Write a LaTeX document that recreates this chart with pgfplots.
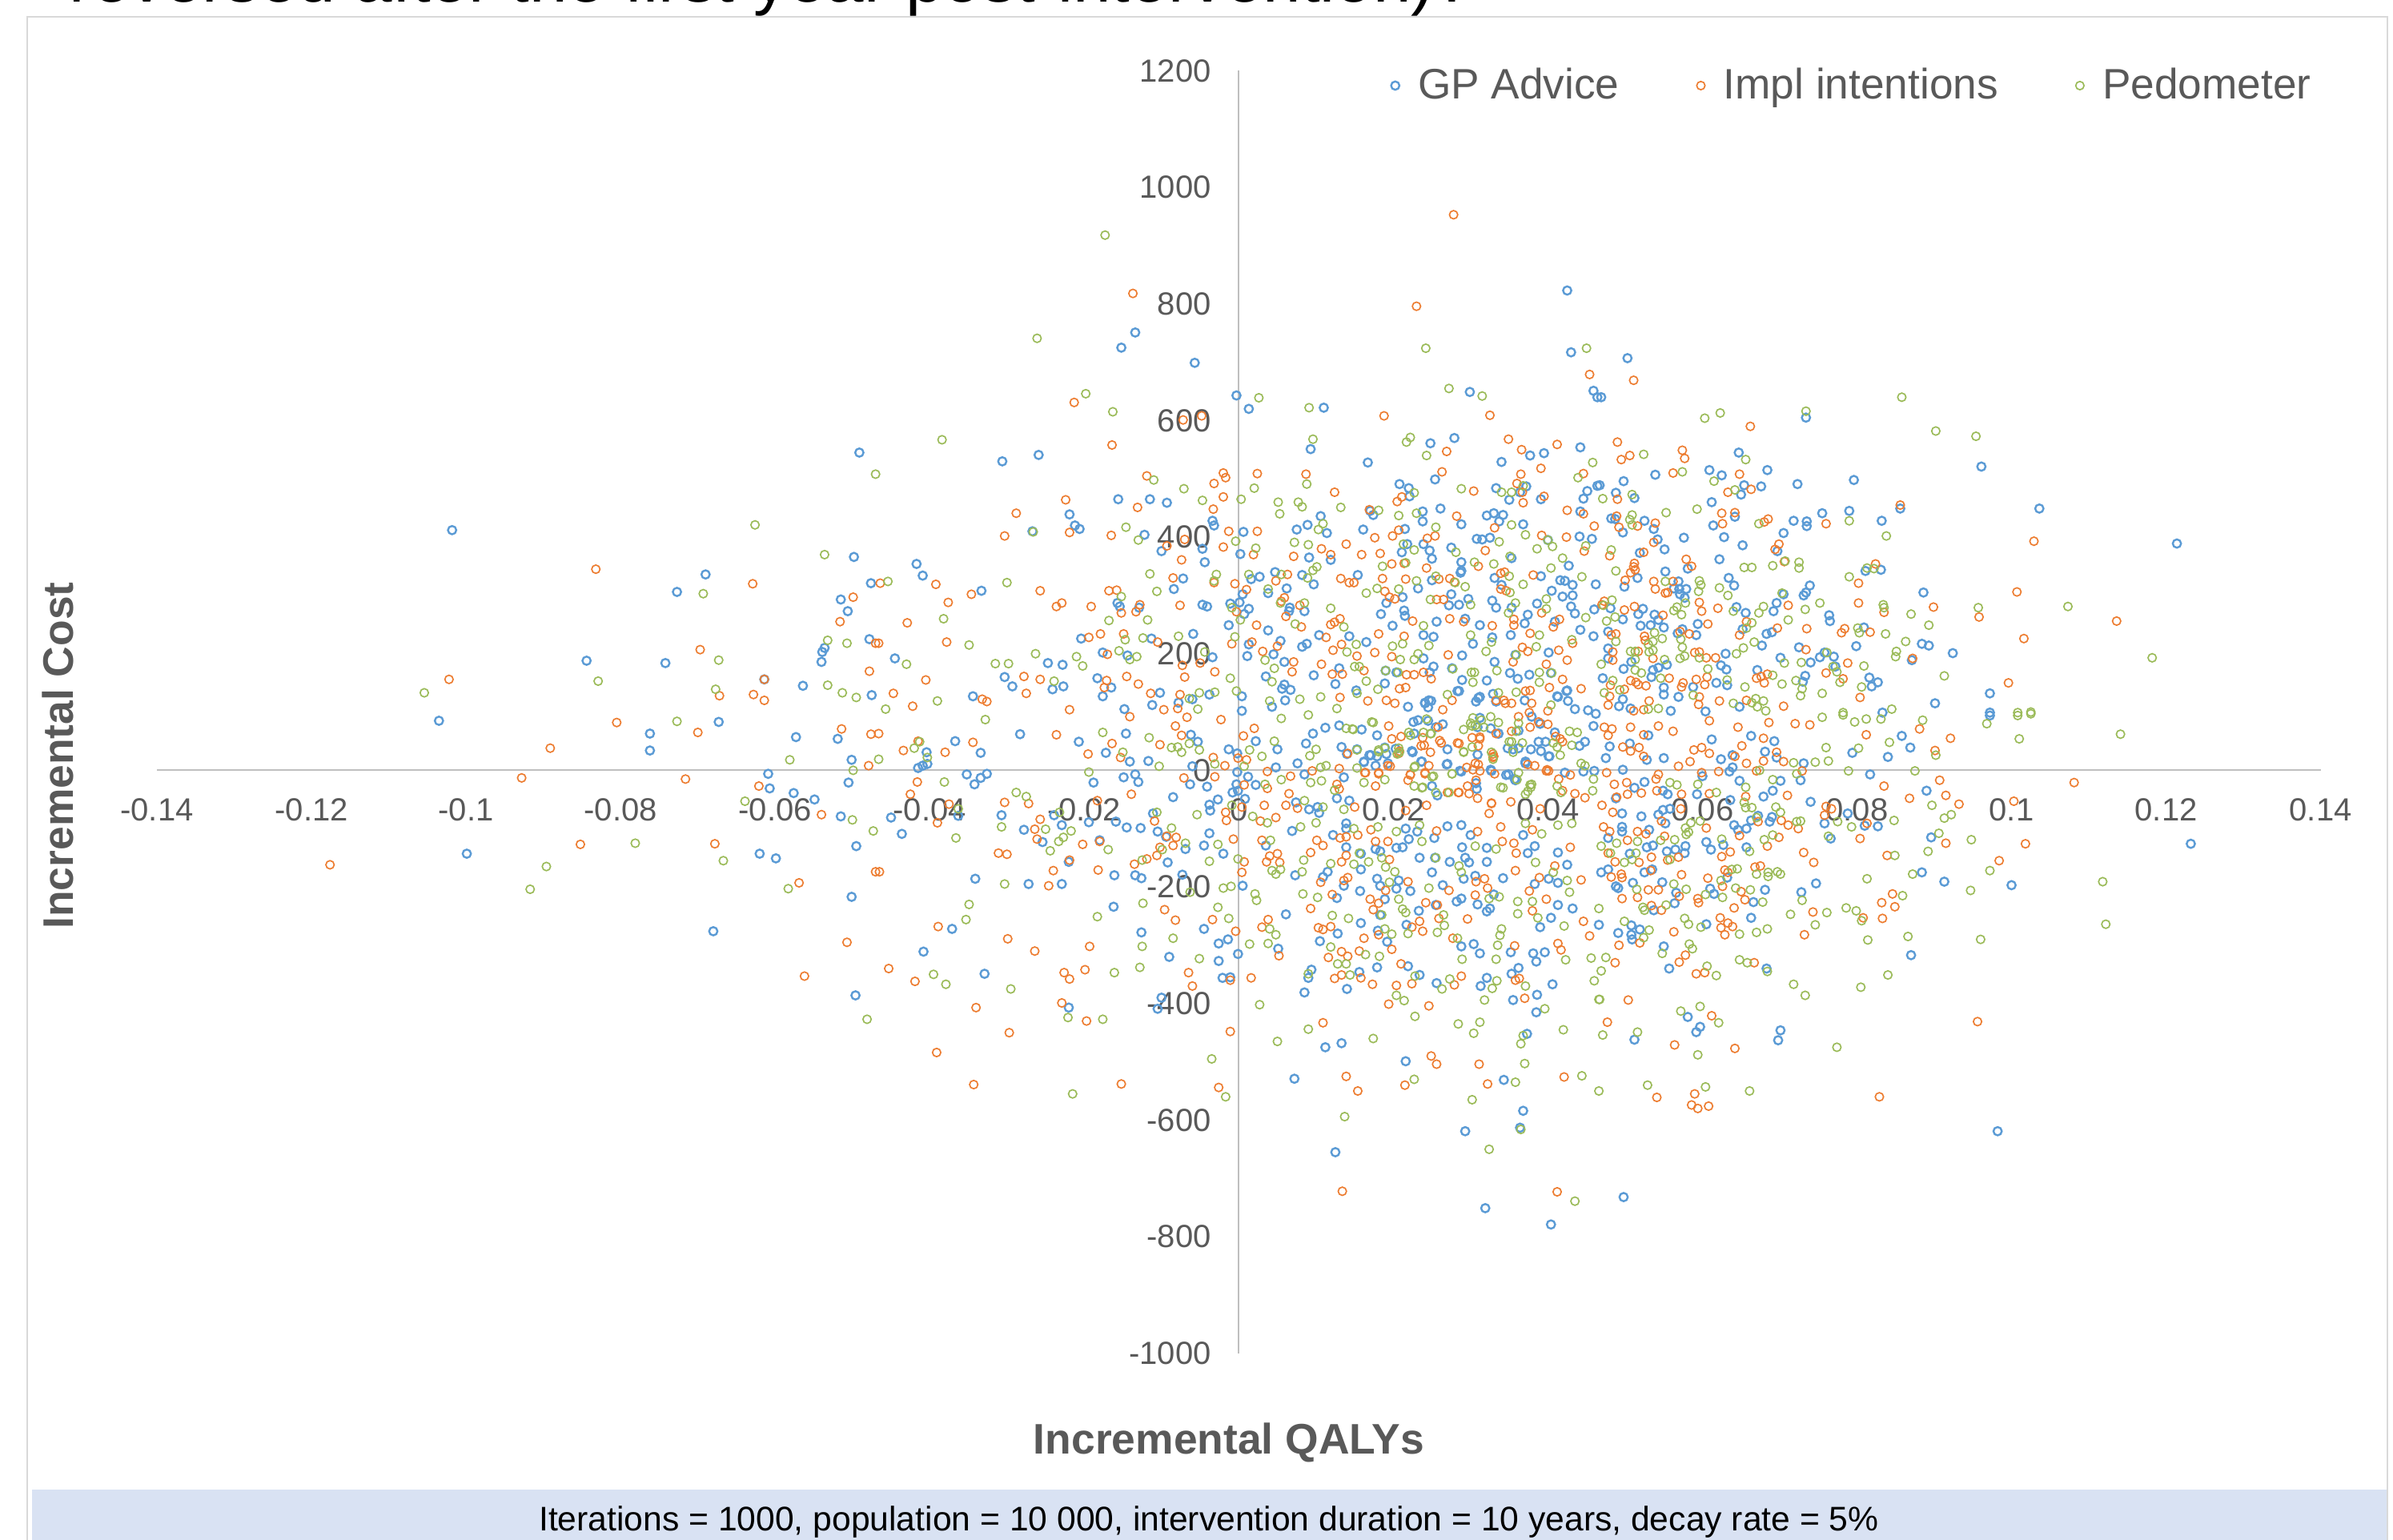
\documentclass[border=0pt]{standalone}
\usepackage{pgfplots}
\pgfplotsset{compat=1.18}
\usepackage{fontspec}
\setmainfont{Liberation Sans}
\definecolor{cgp}{HTML}{5B9BD5}
\definecolor{cimpl}{HTML}{ED7D31}
\definecolor{cped}{HTML}{9BBB59}
\definecolor{axl}{HTML}{BFBFBF}
\definecolor{txt}{HTML}{595959}
\definecolor{band}{HTML}{D9E2F3}
\definecolor{frm}{HTML}{D9D9D9}
\begin{document}
\begin{tikzpicture}
\clip (0,0) rectangle (747.25pt,481pt);
\fill[white] (0,0) rectangle (747.25pt,481pt);
\draw[frm,line width=.5pt] (8.5pt,-2pt) -- (8.5pt,475.75pt) -- (745.5pt,475.75pt) -- (745.5pt,-2pt);
\fill[band] (10pt,0) rectangle (745.25pt,15.75pt);
\node[anchor=base west,inner sep=0pt,font=\fontsize{21.36}{24}\selectfont] at (21.5pt,480.3pt) {reversed after the first year post-intervention)?};
\node[inner sep=0pt,font=\fontsize{10.66}{12}\selectfont] at (377.5pt,5.55pt) {Iterations = 1000, population = 10 000, intervention duration = 10 years, decay rate = 5\%};
\node[inner sep=0pt,text=txt,font=\bfseries\fontsize{13.35}{16}\selectfont] at (383.7pt,30.3pt) {Incremental QALYs};
\node[inner sep=0pt,text=txt,rotate=90,font=\bfseries\fontsize{13.35}{16}\selectfont] at (18pt,245pt) {Incremental Cost};
\begin{axis}[
  at={(49pt,58.3pt)},anchor=south west,scale only axis,
  width=675.65pt,height=400.6pt,
  xmin=-0.14,xmax=0.14,ymin=-1000,ymax=1200,
  axis lines=center,axis line style={-,axl,line width=.5pt},
  major tick length=0pt,
  hide obscured x ticks=false,hide obscured y ticks=false,
  xtick={-0.14,-0.12,-0.1,-0.08,-0.06,-0.04,-0.02,0,0.02,0.04,0.06,0.08,0.1,0.12,0.14},
  xticklabels={-0.14,-0.12,-0.1,-0.08,-0.06,-0.04,-0.02,0,0.02,0.04,0.06,0.08,0.1,0.12,0.14},
  ytick={-1000,-800,-600,-400,-200,0,200,400,600,800,1000,1200},
  yticklabels={-1000,-800,-600,-400,-200,0,200,400,600,800,1000,1200},
  tick label style={text=txt,font=\fontsize{10}{12}\selectfont,inner sep=0pt},
  x tick label style={anchor=base,yshift=-15.8pt},
  y tick label style={anchor=east,xshift=-8.5pt},
  legend columns=3,
  legend style={at={(0.9988,0.9884)},anchor=east,draw=none,fill=none,inner sep=0pt,
    font=\fontsize{13.3}{16}\selectfont,text=txt,
    /tikz/column 1/.style={column sep=3.8pt},/tikz/column 3/.style={column sep=3.8pt},/tikz/column 5/.style={column sep=3.8pt},
    /tikz/column 2/.style={column sep=22.2pt},/tikz/column 4/.style={column sep=22.2pt}},
  legend image code/.code={\draw[#1] plot coordinates {(0pt,0pt)};},
  every axis plot/.append style={only marks,mark=o},
]
\addplot[mark options={draw=cgp,line width=.6pt},mark size=1.3pt] coordinates {
(-.0491,545)(-.1018,412)(-.0498,366)(-.069,336)(-.0727,306)(-.0476,321)(-.0515,293)(-.0506,273)(-.0478,225)(-.0536,210)(-.0539,203)(-.054,186)(-.0844,188)(-.0742,184)(-.0614,156)(-.0564,145)(-.0475,129)
(-.1035,85)(-.0762,63)(-.0762,34)(-.0673,83)(-.0573,57)(-.0519,54)(-.0501,18)(-.0609,-6)(-.0607,-31)(-.0576,-39)(-.0549,-50)(-.0505,-21)(-.0515,-79)(-.0495,-130)(-.0999,-143)(-.062,-143)(-.0599,-151)(-.0501,-217)(-.068,-276)(-.0496,-386)
(.0425,823)(.043,717)(-.0134,751)(-.0152,725)(-.0057,699)(-.0003,643)(.0013,620)(.011,622)(.0299,649)(.0459,651)(.0464,640)(.0279,570)(.0248,561)(.0093,551)(.0442,554)(.0377,540)(.0395,544)(-.0259,541)(-.0306,530)(.0167,528)(.034,529)(.0254,499)(.0208,491)(.022,484)(.0333,484)(.0372,487)(.0221,470)(.035,464)(.0364,477)(.0391,465)(.0451,479)(.0464,488)(.0446,466)(-.0156,465)(-.0115,465)(-.0093,459)(.017,445)(.0174,438)(.0261,449)(.0238,444)(.0238,427)(.0442,444)(-.0219,439)(.0106,436)(-.0034,428)(-.0032,420)(.0321,437)(.033,441)(.0342,438)(.0337,427)(.0288,422)(.0368,422)(.0089,421)(.0215,414)(.0075,413)(.0114,407)(.0161,413)(-.0212,420)(-.0206,414)(-.0267,410)(.0006,409)(-.0122,404)(.0308,397)(.0315,396)(.0325,399)(.0441,401)(.0457,397)(.04,395)(.0218,388)(.0239,388)(.0247,377)(.0211,374)(.0275,382)(.025,363)(.0353,364)(-.01,376)(-.0047,380)(.0002,371)(.0091,365)(.0119,361)(-.0044,357)(.0288,357)(.0288,342)(.0427,351)(.0047,340)(.0082,335)(.0154,335)(.0287,339)(-.0417,354)(-.0409,334)(-.0072,329)(.0027,332)(.0016,328)(.0097,319)(.0391,333)(.0331,330)(.034,318)(.0416,326)(.0422,325)(.0432,318)(.0462,319)(.025,326)(.0232,312)(-.0084,311)(.0062,312)(-.0333,308)(.0038,304)(.0005,302)(.0405,308)(.0419,298)(.0432,300)(.0275,302)(.0212,297)(.0001,288)(-.0011,286)(-.0157,287)(-.0154,281)(-.0047,284)(-.0041,281)(-.0129,279)(.0013,277)(.0066,279)(.0065,273)(.0085,273)(.0191,287)(.0214,274)(.0215,265)(.0184,268)(.0272,283)(.0285,284)(.0297,294)(.0328,291)(.0333,279)(.0353,279)(.0386,286)(.043,281)(.046,276)(.0435,269)(.0007,268)(.0374,267)(.0409,255)(.0293,260)(.0256,255)(-.0013,249)(.0199,248)(.0312,249)(.037,252)(.0038,240)(-.0059,234)(-.0204,226)(-.0113,226)(.0252,229)(.0239,232)(.0143,230)(.0104,232)(.0352,232)(.0442,241)(.0459,230)(.0165,220)(.0054,222)(.0088,217)(.0082,212)(.0013,216)(.0328,228)(.0303,217)(-.0176,202)(-.0144,197)(.0011,196)(.0045,199)(-.0034,194)(-.0445,192)(-.0247,184)(-.0228,181)(.0059,186)(.0289,197)(.0239,192)(.0401,202)(.0358,198)(.0252,178)(.0331,186)(.0276,175)(.013,175)(.019,171)(.0204,168)(.0247,168)(.0351,167)(.0376,164)(.0404,167)(-.0303,160)(.0035,161)(.0097,163)(.0321,154)(.0361,157)(.0289,155)(-.0183,158)(-.0293,144)(-.0241,139)(-.0227,144)(.0059,147)(.0056,140)(.0067,138)(.0125,148)(.0189,149)(.0152,137)(.0285,136)(-.0165,142)(-.0176,127)(-.0344,127)(-.0102,133)(-.0038,130)(.0004,127)(-.0078,116)(-.006,122)(-.0112,112)(.006,120)(.0312,126)(.037,120)(.0425,137)(.0413,126)(.0241,116)(.0249,119)(.0333,118)(.0219,109)(-.0148,105)(.0004,102)(.0043,109)
(.0503,707)(.0469,640)(.0734,605)(.0647,545)(.0609,515)(.0684,515)(.0625,506)(.0539,507)(.0498,496)(.0796,498)(.0723,491)(.0961,521)(.0467,489)(.0654,489)(.0676,487)(.0488,476)(.065,473)(.0512,467)(.0612,460)(.1036,449)(.079,445)(.0755,441)(.0856,449)(.0642,435)(.0482,432)(.0487,431)(.0525,428)(.0832,428)(.0718,428)(.0735,427)(.0735,419)(.0614,420)(.0537,414)(.0497,408)(.0705,407)(.0576,399)(.0628,400)(.0542,396)(.0652,386)(.0551,379)(.1214,389)(.0697,376)(.0519,373)(.0622,362)(.0581,346)(.0811,342)(.0831,344)(.0552,341)(.0634,330)(.0516,330)(.0569,324)(.0641,317)(.0739,317)(.0499,315)(.0579,311)(.0563,312)(.057,311)(.0571,302)(.0577,296)(.0734,305)(.0731,300)(.0705,302)(.0886,305)(.0696,287)(.0644,280)(.0523,277)(.0481,278)(.0692,273)(.0656,270)(.0517,268)(.0538,267)(.0497,259)(.0543,258)(.0764,266)(.0765,256)(.052,248)(.0533,249)(.055,245)(.0594,251)(.0574,242)(.0568,235)(.0652,242)(.069,237)(.0683,234)(.0809,245)(.0478,238)(.0592,232)(.0799,213)(.0677,214)(.0725,211)(.0884,217)(.0893,214)(.0924,201)(.063,200)(.0478,209)(.0758,202)(.077,195)(.0701,193)(.074,185)(.0752,194)(.0772,178)(.0871,189)(.0478,192)(.0508,186)(.0554,181)(.0543,176)(.0624,180)(.0631,173)(.0498,174)(.0536,172)(.0671,172)(.0733,162)(.073,152)(.0534,160)(.0816,159)(.0827,151)(.0819,144)(.0618,150)(.0632,146)(.0471,158)(.055,142)(.055,130)(.0588,143)(.0972,132)(.0901,115)(.0497,122)(.0569,126)(.0492,110)(.0507,106)(.0559,102)(.0648,109)(.0604,101)(.0833,99)(.0972,99)
(-.0283,62)(-.0367,50)(-.0207,49)(-.0334,30)(-.0146,63)(-.0404,31)(-.0403,11)(-.0409,8)(-.0415,4)(-.0172,30)(-.0141,15)(-.0117,16)(-.0013,36)(-.0002,29)(-.0053,49)(-.0062,61)(-.0352,-7)(-.0334,-13)(-.0326,-6)(-.0342,-24)(-.0188,-21)(-.0149,-12)(-.0134,-7)(-.013,-20)(-.0085,-46)(-.0063,-24)(-.0041,-28)(-.006,7)(-.0002,-3)(-.0003,-24)(.0012,-11)(-.0008,-38)(-.0001,-35)(-.0027,-50)(-.0038,-59)(-.0037,-69)(.0008,-49)(.0022,-25)(.0048,5)(.005,36)(.0022,50)(.0087,46)(.0096,63)(.0112,73)(.0076,12)(.0085,-7)(.0074,-55)(.0091,-67)(.0102,-63)(.0104,-73)(.0143,-52)(.0127,-48)(.0136,-12)(.0133,40)(.014,28)(.0153,36)(.0162,14)(.0171,26)(.0189,39)(.0159,70)(.013,77)(.0225,31)(.0237,15)(.027,11)(.027,36)(.0288,-2)(.0309,27)(.0327,-1)(.0349,-7)(.0358,-17)(.0371,12)(.0401,24)(.0446,-2)(.046,-1)(.0422,-4)(.039,80)(.0362,68)(.0336,63)(.0309,74)(.0245,85)(.0179,60)(-.045,-81)(-.0436,-109)(-.0363,-78)(-.0307,-77)(-.0278,-102)(-.0254,-123)(-.0239,-77)(-.0229,-94)(-.0194,-89)(-.0159,-88)(-.018,-120)(-.0145,-98)(-.0127,-99)(-.0111,-74)(-.0105,-105)(-.0094,-114)(-.0069,-135)(-.0045,-129)(-.002,-143)(-.0038,-108)(-.0092,-158)(-.022,-157)(-.0341,-186)(-.0272,-195)(-.0229,-195)(-.0161,-180)(-.0134,-180)(-.0126,-185)(-.0073,-179)(.0005,-198)(-.0162,-234)(-.0371,-272)(-.0126,-278)(-.0045,-272)(-.0408,-311)(-.0026,-297)(-.0014,-290)(-.0026,-327)(-.0001,-315)(-.009,-320)(-.0329,-349)(-.0021,-356)(-.0011,-355)(-.01,-390)(-.022,-407)(-.0105,-409)(.0061,-247)(.0051,-306)(.0035,-129)(.0069,-104)(.0073,-180)(.0105,-293)(.0094,-342)(.009,-356)(.0085,-381)(.0128,-280)(.0127,-219)(.0109,-183)(.0115,-174)(.0136,-198)(.0157,-207)(.0158,-170)(.0122,-111)(.0139,-132)(.0139,-100)(.0139,-91)(.0158,-143)(.0177,-135)(.0183,-139)(.0204,-133)(.0212,-132)(.0179,-186)(.0183,-198)(.0204,-203)(.0207,-189)(.0222,-207)(.0189,-221)(.0183,-248)(.0158,-262)(.018,-275)(.0192,-294)(.0179,-338)(.0156,-346)(.014,-375)(.0219,-336)(.0234,-351)(.0256,-365)(.0217,-265)(.0233,-241)(.0216,-100)(.022,-118)(.0231,-105)(.0253,-116)(.0234,-150)(.0254,-150)(.025,-175)(.0264,-197)(.0273,-157)(.027,-96)(.0288,-94)(.0289,-132)(.0293,-150)(.0298,-158)(.0291,-186)(.0306,-181)(.0321,-157)(.0342,-185)(.0321,-133)(.03,-111)(.0368,-111)(.0383,-130)(.0374,-142)(.0413,-141)(.0425,-162)(.0383,-195)(.0401,-186)(.0413,-193)(.0282,-225)(.0288,-220)(.0255,-231)(.0309,-230)(.033,-213)(.0321,-242)(.0325,-237)(.0413,-231)(.0432,-237)(.0404,-253)(.039,-269)(.0288,-302)(.0304,-298)(.0312,-314)(.0352,-312)(.0381,-314)(.0396,-312)(.0385,-328)(.0362,-339)(.0353,-349)(.0321,-356)(.0313,-370)(.0406,-367)(.0386,-385)(.0355,-394)(.0385,-415)(.0373,-452)(.0133,-468)(.0112,-475)(.0216,-499)(.0072,-529)(.0343,-531)(.0368,-584)(.0293,-619)(.0364,-613)(.0125,-655)(.0319,-751)(.0404,-779)
(.0972,94)(.0858,59)(.0869,39)(.0794,30)(.084,23)(.0693,50)(.0663,59)(.0681,32)(.0696,22)(.0731,12)(.0639,26)(.0624,19)(.0639,5)(.0635,-2)(.06,-10)(.0528,18)(.055,21)(.0497,1)(.0475,21)(.048,41)(.0506,46)(.053,60)(.0612,53)(.0817,-7)(.0648,-18)(.0727,-17)(.0701,-18)(.0691,-35)(.0679,-45)(.0593,-41)(.074,-54)(.089,-35)(.0636,-51)(.0672,-78)(.069,-80)(.0687,-88)(.0663,-86)(.0641,-94)(.0657,-100)(.0646,-102)(.0788,-74)(.0758,-91)(.081,-95)(.0827,-96)(.0766,-117)(.0605,-123)(.0627,-128)(.0611,-136)(.0657,-132)(.0896,-115)(.0578,-130)(.0577,-142)(.0565,-136)(.0554,-139)(.0528,-132)(.0536,-129)(.0506,-143)(.0478,-116)(.0531,-102)(.0496,-97)(.0496,-105)(.0521,-79)(.0496,-74)(.0552,-91)(.0543,-76)(.0549,-68)(.0558,-66)(.0555,-41)(.0549,-35)(.0512,-30)(.0525,-20)(.0488,-48)(.0884,-175)(.0913,-191)(.1,-197)(.0747,-194)(.0728,-209)(.0681,-205)(.0632,-184)(.0535,-170)(.0525,-175)(.0548,-192)(.051,-193)(.0488,-199)(.0491,-202)(.0478,-170)(.0469,-175)(.061,-203)(.0615,-212)(.0566,-210)(.0666,-226)(.0564,-228)(.0537,-240)(.0663,-253)(.0605,-264)(.0491,-279)(.0508,-266)(.0519,-273)(.0508,-282)(.0509,-290)(.055,-302)(.087,-317)(.0557,-340)(.0683,-340)(.0581,-423)(.0701,-446)(.0597,-440)(.0592,-449)(.0512,-462)(.0698,-463)(.0982,-619)(.0498,-732)(.1232,-126)(.0466,-265)
(.0283,136)(.031,124)(.0329,131)(.0412,127)(.0424,136)(.0426,119)(.0435,105)(.0452,103)(.0462,97)(.0379,92)(.039,80)(.0409,65)(.0397,49)(.0388,49)(.0355,36)(.0362,38)(.0378,36)(.0391,33)(.0402,24)(.0448,49)(.0441,42)(.0459,76)(.0371,15)(.0346,-8)(.0357,-15)(.0326,1)(.0307,-22)(.0308,-32)(.0286,-1)(.0269,10)(.0236,15)(.025,-27)(.0257,-43)(.0227,63)(.0226,83)(.0232,86)(.0245,108)(.0246,120)(.0241,115)(.0255,74)(.0264,79)(.0179,24)(.0169,26)(.0191,28)(.0193,12)(.0203,37)(.0224,33)(.0162,15)(.0177,8)(.0326,72)(.0336,63)(.0307,118)(.0312,90)(.0348,38)
};
\addlegendentry{GP Advice}
\addplot[mark options={draw=cimpl,line width=.42pt},mark size=1.3pt] coordinates {
(-.0832,345)(-.0629,320)(-.0499,297)(-.0516,255)(-.0697,207)(-.0478,170)(-.1022,156)(-.0614,156)(-.0672,128)(-.0628,130)(-.0614,120)(-.047,218)
(-.0805,82)(-.07,65)(-.0891,38)(-.0928,-13)(-.0716,-15)(-.0514,71)(-.0476,62)(-.0479,8)(-.0621,-27)(-.054,-76)(-.0852,-127)(-.0678,-126)(-.1176,-162)(-.0569,-193)(-.0507,-295)(-.0562,-353)(-.047,-174)
(.0278,953)(-.0137,818)(.023,796)(-.0213,631)(.0188,608)(.0325,609)(.0454,679)(-.0072,601)(-.0048,608)(-.0164,558)(.0349,568)(.0412,559)(.0366,550)(.0269,547)(.0263,512)(.0391,518)(-.002,510)(.0024,509)(.0087,508)(.0365,508)(-.0119,505)(-.0017,502)(-.0032,492)(.0446,509)(.036,492)(.0124,477)(.0304,479)(.0367,477)(.0395,470)(.0211,469)(-.002,469)(-.0224,464)(.0205,461)(.0368,459)(-.0131,451)(-.0033,448)(.0169,447)(.0425,446)(-.0288,441)(.0446,440)(.0282,436)(.0331,416)(.046,419)(-.0013,410)(.0024,410)(.0207,412)(-.0303,402)(-.0219,408)(-.0165,403)(.0176,399)(.0199,402)(.0244,398)(.0254,402)(.0392,403)(.0424,400)(-.0093,385)(-.007,396)(-.002,383)(.0139,388)(.0107,380)(.0447,376)(.0319,377)(.0019,370)(.0071,367)(.0119,370)(.0159,370)(.0183,372)(-.0074,361)(.0198,354)(.0214,355)(.0243,347)(.031,350)(.0339,338)(.0344,340)(.0381,335)(.0063,336)(-.0085,330)(.0132,329)(.0143,322)(.0149,322)(.0186,329)(.0216,328)(-.0464,321)(-.0392,319)(-.0032,322)(-.0005,320)(.0048,325)(.0259,328)(.0273,329)(.0279,323)(.0339,311)(.0346,308)(-.0168,308)(-.0158,309)(-.0257,308)(-.0346,302)(.001,310)(.0189,307)(.0195,297)(.0202,294)(-.0376,288)(.0059,296)(.0256,293)(.0265,293)(.0055,290)(-.0229,287)(-.0236,281)(-.0191,281)(-.0076,283)(-.0128,284)(.0079,283)(-.0133,272)(-.0152,270)(-.0003,272)(.0392,270)(.0415,259)(.0356,259)(-.0429,253)(.0273,260)(.0061,264)(.0131,260)(.0225,256)(.0291,255)(.0124,254)(.0119,250)(.0023,249)(.0081,246)(.0328,248)(.0356,249)(.0407,246)(.0377,235)(-.0179,234)(-.0149,234)(-.0194,228)(-.0378,220)(.0181,234)(.0214,230)(.0113,228)(-.0105,220)(.0017,220)(.005,213)(-.0466,218)(-.0009,217)(.0133,216)(.0367,211)(.0432,218)(.0374,204)(.0031,204)(.0122,206)(.0176,202)(.0271,198)(.0414,206)(-.017,199)(.0153,196)(.0198,195)(.0355,186)(.0425,189)(-.0073,180)(-.005,184)(.0071,186)(.0107,182)(.0398,182)(-.0031,169)(.0069,169)(.0162,171)(.0121,165)(.0239,168)(.0217,164)(.0227,164)(.0134,165)(-.0278,161)(-.0257,156)(-.0145,161)(-.007,160)(-.0405,155)(-.0171,154)(.0419,156)(.0249,157)(-.013,148)(-.0174,142)(-.0447,132)(-.0275,132)(-.0114,132)(-.0076,130)(.0208,140)(.0216,142)(.0371,136)(.0377,137)(.0402,142)(.0443,140)(-.0332,122)(-.0326,118)(.0131,125)(.0167,119)(.0191,120)(.0202,115)(.0276,120)(.0333,120)(.0353,115)(-.0422,110)(-.0219,104)(-.0097,104)(-.0079,106)(.0264,104)
(.0511,669)(.0662,590)(.049,563)(.0506,540)(.0495,533)(.0574,549)(.0577,535)(.0562,510)(.0648,508)(.0633,477)(.0663,482)(.049,465)(.0856,455)(.0625,441)(.0642,442)(.0489,436)(.0685,431)(.068,426)(.0539,424)(.0626,423)(.076,423)(.0492,417)(.0516,419)(.1029,393)(.0537,391)(.0699,388)(.0694,379)(.0524,374)(.048,368)(.0579,362)(.0706,358)(.0824,354)(.0512,355)(.0511,349)(.0586,350)(.0513,344)(.0507,339)(.05,326)(.0537,324)(.0562,324)(.0802,321)(.0539,311)(.0555,305)(.0552,304)(.1007,306)(.0473,290)(.047,284)(.0512,281)(.0596,288)(.0599,273)(.0499,275)(.062,278)(.0802,287)(.0899,280)(.0711,283)(.0835,271)(.0958,263)(.0549,266)(.0657,255)(.1136,256)(.0607,251)(.0735,243)(.0697,244)(.078,236)(.0784,243)(.0817,237)(.0648,232)(.0583,234)(.0571,238)(.0488,234)(.0482,232)(.0525,230)(.0526,223)(.1016,226)(.0734,207)(.0596,203)(.059,202)(.0484,203)(.0517,204)(.0605,193)(.0617,193)(.0536,192)(.0484,189)(.0872,192)(.0788,184)(.0684,165)(.0676,161)(.067,158)(.068,150)(.076,167)(.0557,158)(.0606,160)(.0592,156)(.0507,154)(.0514,151)(.0517,147)(.0527,145)(.0575,150)(.0573,143)(.0603,147)(.0996,150)(.0782,157)(.0481,146)(.0499,139)(.048,127)(.0804,125)(.0531,119)(.0596,126)(.0622,119)(.0657,120)(.0705,110)(.0478,112)(.0595,113)(.0524,104)(.0511,102)
(-.0466,63)(-.0415,50)(-.0434,34)(-.038,31)(-.0344,48)(-.0236,61)(-.0195,28)(-.0164,46)(-.0153,22)(-.0141,92)(-.0102,44)(-.0082,76)(-.0074,60)(-.0023,87)(-.0067,91)(-.0033,22)(-.0018,8)(-.0001,21)(.0006,59)(.002,72)(.001,18)(-.0031,-11)(-.0071,-13)(-.0416,-20)(-.0425,-41)(-.0375,-58)(-.0303,-55)(-.0272,-57)(-.0183,-52)(-.0139,-41)(-.039,-90)(-.0257,-84)(-.0264,-101)(-.0261,-118)(-.0202,-127)(-.018,-122)(-.0109,-87)(-.0081,-115)(-.0093,-113)(-.0085,-129)(-.0102,-132)(-.0106,-146)(-.0119,-152)(-.0135,-161)(-.0311,-142)(-.03,-144)(-.0219,-154)(-.024,-172)(-.0182,-171)(-.0246,-198)(-.0465,-174)(-.0017,-72)(-.0016,-86)(.0004,-63)(.0028,-87)(.0048,-81)(.0033,-60)(.0061,-60)(.0076,-65)(-.0007,-118)(.0007,-157)(.0004,-175)(.0036,-157)(.004,-147)(.005,-143)(.0053,-158)(.003,-120)(.0093,-141)(.0101,-120)(.0109,-129)(.0106,-192)(.0141,-184)(.0136,-189)(.0121,-213)(.0093,-237)(-.0096,-239)(-.0082,-257)(-.0034,-256)(-.0004,-276)(-.0389,-268)(-.0299,-289)(-.0264,-310)(-.0193,-302)(-.0453,-340)(-.0419,-362)(-.0226,-347)(-.0219,-358)(-.0199,-342)(-.0065,-347)(-.006,-370)(-.0011,-360)(.0016,-356)(.0038,-256)(.003,-269)(.0052,-318)(.0103,-270)(.0109,-273)(.0119,-268)(.0116,-321)(.0133,-311)(.0141,-319)(.0156,-310)(.0124,-357)(.0133,-351)(.0158,-356)(.0173,-367)(.0162,-288)(.0198,-307)(.0181,-282)(.017,-221)(.0174,-239)(.0181,-228)(.019,-206)(.0219,-191)(.0224,-269)(.0238,-276)(.0234,-259)(.0277,-288)(.021,-332)(.0204,-369)(.0224,-366)(.0279,-368)(.0288,-353)(.0357,-301)(.0358,-360)(.0363,-357)(.037,-391)(.0413,-297)(.0417,-308)(.0454,-284)(.0194,-401)(.0246,-404)(-.0229,-399)(-.034,-407)(-.0197,-430)(-.0297,-450)(-.0391,-484)(-.0011,-448)(.0109,-433)(-.0343,-539)(-.0152,-538)(-.0026,-544)(.0249,-490)(.0256,-504)(.0139,-525)(.0154,-550)(.0215,-540)(.0311,-504)(.0322,-538)(.0421,-526)(.0134,-722)(.0412,-723)(.0272,-206)(.0257,-231)(.0242,-227)(.0259,-254)(.0296,-255)(.0306,-214)(.0318,-186)(.0307,-191)(.0322,-202)(.0358,-172)(.0389,-184)(.0376,-207)(.0398,-221)(.038,-241)(.0443,-188)(.0446,-259)(.0429,-132)(.0409,-164)(.0359,-142)(.0341,-122)(.0356,-125)(.038,-102)(.0339,-97)(.0324,-74)(.0309,-105)(.0256,-104)(.0193,-122)(.0177,-122)(.0195,-153)(.0133,-157)(.0139,-146)(.0131,-116)(.0139,-114)(.0154,-111)(.0171,-102)(.015,-63)(.0127,-24)(.013,-32)(.0181,-6)(.0222,-7)(.0241,-6)(.0196,7)(.0164,-4)(.013,3)(.0095,-1)(.0067,-10)(.0037,-2)(.0007,-25)(.0037,-31)(.0065,-40)(.0141,29)(.0207,29)(.024,43)(.0285,46)(.0306,12)(.033,24)(.0312,57)(.0377,74)(.0419,49)(.0401,-1)(.027,-38)(.0285,-38)(.0327,-57)(.0309,-48)(.039,-66)(.0419,-35)(.0243,-60)(.0216,-69)
(.0921,55)(.0881,71)(.0812,61)(.0901,34)(.0739,78)(.072,80)(.0686,82)(.0646,74)(.0609,85)(.0543,76)(.0507,74)(.0483,71)(.0473,74)(.0478,60)(.0524,61)(.0497,40)(.0518,39)(.0507,33)(.0562,67)(.0589,35)(.0599,39)(.0609,29)(.0651,42)(.0679,55)(.0696,31)(.0524,24)(.0584,15)(.0569,7)(.0642,24)(.0657,12)(.0679,16)(.0705,15)(.0621,-2)(.0599,-4)(.067,-1)(.0729,-1)(.0543,-7)(.054,-15)(.0476,-4)(.0486,-24)(.0502,-21)(.0503,-41)(.1081,-21)(.0907,-17)(.0835,-27)(.0915,-43)(.0868,-48)(.0932,-58)(.1003,-53)(.071,-43)(.0656,-45)(.0609,-40)(.0573,-41)(.0541,-35)(.0521,-39)(.0489,-46)(.047,-60)(.0572,-66)(.076,-62)(.0767,-66)(.0758,-77)(.0547,-87)(.0484,-72)(.0605,-99)(.0672,-88)(.0702,-86)(.0711,-94)(.0724,-100)(.0813,-91)(.0472,-97)(.048,-105)(.0503,-120)(.0516,-105)(.0527,-109)(.0551,-113)(.0648,-112)(.0699,-115)(.0804,-117)(.0915,-125)(.1018,-126)(.0684,-130)(.0636,-140)(.0625,-148)(.0731,-141)(.0839,-146)(.0534,-149)(.0569,-149)(.0555,-154)(.0478,-142)(.0487,-157)(.0518,-158)(.0744,-158)(.0984,-155)(.0573,-179)(.0629,-171)(.0633,-175)(.0668,-166)(.0675,-164)(.0607,-185)(.0495,-178)(.0482,-183)(.0496,-184)(.0533,-172)(.053,-205)(.0543,-205)(.0626,-199)(.065,-208)(.0655,-222)(.0594,-220)(.0595,-227)(.057,-216)(.0496,-220)(.0516,-218)(.0846,-212)(.0832,-227)(.0849,-234)(.0743,-243)(.0534,-232)(.0547,-240)(.0641,-236)(.0808,-253)(.0833,-254)(.0623,-253)(.0633,-262)(.0639,-268)(.0624,-270)(.0629,-282)(.0563,-277)(.0732,-282)(.0519,-296)(.0492,-300)(.0578,-317)(.057,-329)(.0487,-330)(.0667,-330)(.0592,-349)(.0603,-347)(.0504,-394)(.0956,-431)(.0612,-421)(.0477,-432)(.0564,-471)(.0642,-477)(.059,-555)(.0541,-561)(.0586,-574)(.0594,-580)(.0608,-576)(.0829,-560)
(.031,10)(.0312,-1)(.0303,1)(.0307,-17)(.0296,-27)(.0298,-40)(.0284,-38)(.0295,5)(.0331,-6)(.0374,10)(.0383,8)(.0398,-1)(.0399,1)(.0414,-15)(.0429,-8)(.0435,-40)(.0448,-47)(.0327,-56)(.0352,-54)(.0312,54)(.0333,63)(.0329,28)(.0329,22)(.0283,47)(.0302,56)(.031,42)(.0353,67)(.0388,83)(.04,79)(.041,58)(.0416,54)(.04,102)(.0379,115)(.0345,115)(.0343,120)(.0362,92)(.0376,99)(.021,58)(.0198,54)(.0194,76)(.0208,33)(.0246,8)(.0241,-4)(.0222,-8)(.0219,-17)(.0177,-27)(.0181,-4)(.0163,-4)(.0193,8)(.0236,42)(.0248,31)(.026,51)(.0262,47)(.0238,56)(.0258,74)
};
\addlegendentry{Impl intentions}
\addplot[mark options={draw=cped,line width=.42pt},mark size=1.3pt] coordinates {
(-.047,508)(-.0626,421)(-.0536,370)(-.0693,303)(-.0532,223)(-.0507,218)(-.0673,189)(-.0829,153)(-.1054,133)(-.0677,139)(-.0532,146)(-.0513,133)(-.0495,125)
(-.0727,84)(-.0581,18)(-.0499,0)(-.0639,-53)(-.05,-85)(-.0473,-104)(-.0781,-125)(-.0667,-155)(-.0896,-165)(-.0583,-203)(-.0917,-204)(-.0481,-427)
(-.0173,918)(-.0261,741)(.0242,724)(.045,724)(-.0198,646)(-.0163,615)(.0026,639)(.0091,622)(.0272,655)(.0315,642)(-.0384,567)(.0096,568)(.0222,571)(.0217,563)(.0243,540)(.0458,528)(-.011,498)(.0439,502)(-.0071,483)(.002,484)(.0088,491)(.0288,483)(-.0047,463)(.0003,465)(.0051,460)(.0077,460)(.0082,452)(.0053,440)(.0132,451)(.0181,446)(.0227,476)(.034,477)(.0353,477)(.0368,488)(.0207,437)(.023,441)(.0109,423)(.0103,413)(.0255,417)(.0353,421)(.0371,404)(-.0146,417)(-.0266,409)(-.013,395)(-.0004,393)(.0022,381)(.0072,391)(.009,387)(.0337,392)(.0213,388)(.0227,378)(.04,395)(.0406,384)(.0386,380)(.0449,385)(.0281,374)(.0351,367)(.0419,364)(.0305,357)(.033,354)(.0186,350)(.0101,349)(.0096,343)(.0089,330)(-.0029,336)(-.0115,337)(-.03,322)(-.0454,324)(-.0032,325)(-.0106,307)(.0013,336)(.0055,336)(.0216,356)(.0255,333)(.023,325)(.028,322)(.0293,315)(.0368,319)(.035,333)(.0404,347)(.0444,332)(.0351,305)(.0398,294)(.0179,312)(.0165,304)(.0207,311)(.0038,311)(-.0152,298)(.0085,287)(.0054,287)(.0119,278)(.0248,293)(.03,284)(.0358,287)(.0398,277)(.0349,270)(.0449,262)(-.0009,279)(-.0382,260)(-.0168,257)(-.0118,258)(.0002,258)(.0073,251)(.0136,246)(.0239,248)(.03,232)(.0389,232)(.0431,224)(-.0005,229)(-.0078,230)(-.0124,227)(-.0147,224)(-.0349,215)(.0152,216)(.0199,213)(.0212,217)(.0246,214)(.0327,220)(.032,204)(.0385,212)(.0359,198)(-.0044,203)(-.0263,200)(-.0155,205)(-.0132,195)(-.0141,190)(-.021,195)(-.0202,179)(-.0315,183)(-.0298,183)(-.043,182)(.014,203)(.0034,189)(.0046,175)(.0209,190)(.0227,190)(.0232,200)(.015,178)(.0156,178)(.019,171)(.0206,168)(.0277,174)(.0301,168)(.0305,168)(.0334,171)(.0389,168)(.0405,167)(-.0011,158)(-.0239,153)(-.039,119)(-.0457,105)(-.0003,136)(-.0031,134)(-.0051,133)(-.0064,123)(.0043,152)(.0165,153)(.018,139)(.0153,132)(.0106,126)(.0079,122)(.004,119)(.027,130)(.0303,151)(.0336,133)(.0359,134)(.0389,151)(.0404,112)(.0127,106)(-.0053,105)
(.0858,640)(.0734,616)(.0623,613)(.0603,604)(.0902,582)(.0954,573)(.0524,542)(.0656,533)(.0574,512)(.0615,496)(.0642,481)(.0509,473)(.0471,466)(.0553,442)(.0593,448)(.0509,438)(.0506,430)(.0509,421)(.0673,423)(.079,428)(.0838,402)(.0482,378)(.0707,359)(.0725,357)(.0725,347)(.0691,351)(.0654,348)(.0664,348)(.0488,342)(.0813,347)(.0822,346)(.079,332)(.0552,324)(.0596,325)(.0598,318)(.0622,313)(.0595,307)(.0633,300)(.0703,304)(.0578,287)(.0483,292)(.0472,283)(.0567,280)(.0563,274)(.0573,267)(.0679,281)(.0673,270)(.0752,287)(.0733,276)(.064,273)(.0834,284)(.0835,279)(.0957,279)(.1073,281)(.087,268)(.0487,263)(.0476,256)(.0711,258)(.0664,253)(.0657,244)(.0893,249)(.0837,234)(.0803,236)(.0801,244)(.0538,236)(.0488,221)(.0548,226)(.0572,225)(.0536,221)(.053,216)(.0667,220)(.0653,210)(.0574,211)(.0863,221)(.0536,206)(.0507,204)(.0513,204)(.0531,203)(.0644,200)(.0851,204)(.0761,202)(.085,195)(.0577,196)(.0571,192)(.0551,190)(.0596,193)(.0513,190)(.0706,184)(.0728,185)(.0469,182)(.0809,179)(.1182,193)(.0607,174)(.0513,172)(.0521,167)(.0691,163)(.0774,169)(.0769,178)(.0546,158)(.0913,162)(.0632,155)(.0484,154)(.0721,154)(.0703,148)(.0778,151)(.0729,140)(.0806,143)(.0655,143)(.0755,132)(.0493,138)(.0473,133)(.0727,128)(.0588,129)(.0669,123)(.0679,119)(.0664,116)(.064,115)(.0671,109)(.0845,105)(.0782,99)(.1008,99)(.1025,100)(.0682,102)(.0543,106)(.053,105)
(-.0328,87)(-.0466,19)(-.042,38)(-.0413,49)(-.0403,22)(-.0176,65)(-.0194,-3)(-.015,31)(-.0116,56)(-.0103,7)(-.0087,39)(-.0079,40)(-.0074,31)(-.0064,46)(-.0051,35)(-.0031,11)(-.0381,-20)(-.0288,-38)(-.0275,-45)(-.0363,-66)(-.0232,-72)(-.0307,-97)(-.025,-101)(-.0217,-104)(-.0227,-115)(-.0233,-122)(-.0244,-138)(-.0366,-116)(-.0169,-136)(-.0106,-72)(-.0087,-99)(-.0069,-125)(-.0099,-136)(-.0125,-154)(-.0027,-127)(-.0038,-156)(-.0001,-152)(-.0054,-76)(-.0009,-60)(-.0303,-195)(-.0349,-230)(-.0353,-256)(-.0183,-251)(-.0124,-228)(-.0063,-209)(-.002,-202)(-.001,-199)(-.0027,-235)(-.0013,-254)(.0021,-212)(.0023,-223)(-.0085,-288)(-.0125,-302)(.0014,-298)(.0038,-297)(.0048,-282)(.004,-272)(-.0051,-323)(-.0128,-338)(-.0161,-347)(-.0395,-350)(-.0379,-367)(-.0295,-375)(.0027,-402)(-.0221,-424)(-.0176,-427)(.009,-444)(.005,-465)(-.0035,-495)(-.0215,-555)(-.0017,-560)(.0174,-460)(.0227,-530)(.0137,-594)(.0302,-565)(.0358,-535)(.0444,-524)(.0324,-650)(.0365,-616)(.0435,-739)(.037,-503)(.0284,-435)(.0312,-432)(.0304,-451)(.042,-445)(.0368,-455)(.0365,-469)(.0228,-422)(.0204,-386)(.0214,-395)(.0318,-394)(.0328,-374)(.0334,-361)(.0263,-375)(.0273,-358)(.0228,-353)(.0371,-370)(.0396,-409)(.0466,-393)(.046,-361)(.0423,-325)(.0456,-322)(.0333,-324)(.0289,-324)(.0335,-300)(.0283,-288)(.0182,-319)(.0164,-316)(.0139,-332)(.0128,-332)(.0119,-303)(.0144,-351)(.009,-349)(.0338,-283)(.034,-272)(.0257,-278)(.0219,-280)(.0189,-272)(.0198,-281)(.0421,-267)(.0142,-254)(.0121,-249)(.0083,-212)(.0102,-218)(.0207,-221)(.0212,-238)(.0216,-244)(.0185,-248)(.0266,-266)(.0265,-248)(.0361,-246)(.0361,-225)(.0387,-253)(.038,-225)(.0337,-217)(.0246,-202)(.0324,-220)(.0195,-192)(.0202,-174)(.019,-166)(.0168,-157)(.0185,-150)(.0149,-161)(.0119,-160)(.0082,-174)(.0084,-154)(.0043,-172)(.0048,-178)(.0054,-170)(.0041,-120)(.0037,-90)(.0018,-79)(.008,-97)(.01,-90)(.0288,-175)(.0285,-164)(.0255,-150)(.0237,-122)(.018,-97)(.0156,-142)(.0149,-100)(.0204,-105)(.0234,-94)(.0306,-130)(.0333,-135)(.0371,-91)(.0392,-109)(.0413,-94)(.0431,-91)(.0384,-158)(.0407,-175)(.0425,-189)(.0428,-209)(.0371,-41)(.0162,-21)(.0136,-67)(.0109,-63)(.0085,-52)(.0055,-16)(.0093,-21)(.0107,-18)(.0034,-24)(.0124,-34)(.0189,-16)(.0237,-30)(.0252,-10)(.0276,-6)(.0342,-30)(.0377,-25)(.0458,-35)(.0291,32)(.0353,49)(.0431,43)(.0336,82)(.0306,77)(.0249,63)(.0174,82)(.0147,71)(.0222,60)(.0181,32)(.0207,38)(.0153,35)(.01,36)(.0092,25)(.0014,35)(.003,24)(.0046,50)(.0055,89)(.009,95)(.0443,12)(.036,-16)(.0113,8)(.0106,5)(.0228,7)(.0153,4)(.0007,7)
(.1141,62)(.101,54)(.0968,80)(.1008,94)(.1025,97)(.0885,86)(.0842,48)(.0831,88)(.0812,88)(.0797,83)(.0782,95)(.0755,91)(.076,39)(.0802,38)(.0902,26)(.0746,14)(.0763,16)(.0718,13)(.0789,-1)(.0875,-1)(.0674,0)(.0722,-6)(.0691,-16)(.0618,-38)(.0594,-24)(.0567,-25)(.0558,-21)(.0656,-29)(.0897,-60)(.0654,-55)(.0656,-64)(.0664,-64)(.0695,-63)(.0701,-72)(.0922,-76)(.0913,-82)(.0848,-86)(.0775,-88)(.0793,-97)(.0722,-88)(.0727,-87)(.067,-81)(.0597,-87)(.0585,-90)(.0578,-99)(.0582,-106)(.0579,-110)(.0763,-113)(.0906,-108)(.0948,-119)(.0691,-111)(.068,-119)(.0625,-118)(.0564,-119)(.0546,-120)(.0516,-122)(.0489,-125)(.0469,-130)(.0892,-139)(.0849,-146)(.0661,-139)(.0558,-153)(.0509,-153)(.0499,-158)(.0514,-142)(.0481,-142)(.0872,-178)(.0972,-172)(.0813,-186)(.0645,-169)(.0638,-170)(.0685,-175)(.0697,-174)(.0701,-178)(.067,-178)(.0685,-182)(.1118,-191)(.0624,-189)(.0563,-195)(.0579,-204)(.0515,-204)(.0643,-202)(.0662,-205)(.0947,-206)(.0859,-215)(.0626,-218)(.0678,-226)(.0604,-213)(.0553,-231)(.0523,-235)(.0525,-240)(.0729,-223)(.0786,-236)(.0799,-241)(.0761,-244)(.0714,-247)(.0466,-237)(.0806,-258)(.0746,-265)(.0577,-254)(.0582,-264)(.0598,-269)(.0499,-259)(.0531,-274)(.0684,-272)(.067,-278)(.0648,-281)(.1122,-264)(.0524,-287)(.0866,-285)(.0814,-291)(.096,-290)(.0583,-298)(.0587,-306)(.0548,-314)(.0475,-321)(.0648,-325)(.0658,-330)(.0606,-336)(.0684,-345)(.0469,-344)(.0618,-352)(.084,-351)(.0718,-367)(.0805,-372)(.0733,-386)(.0467,-393)(.0597,-405)(.0572,-413)(.0621,-433)(.0516,-449)(.0471,-454)(.0774,-475)(.0594,-488)(.0529,-540)(.0604,-543)(.0661,-550)(.0466,-550)
(.0291,31)(.0302,40)(.0327,31)(.0329,19)(.035,49)(.0355,31)(.0367,47)(.0362,81)(.0359,67)(.0407,47)(.0412,40)(.0416,26)(.0428,67)(.0438,65)(.0448,8)(.0459,-15)(.0362,-4)(.0339,-29)(.0378,-29)(.0374,-36)(.0379,-24)(.0412,-27)(.0417,-38)(.03,81)(.0302,76)(.0303,90)(.0314,86)(.0317,74)(.0326,92)(.0291,70)(.0276,-6)(.0255,-38)(.0272,-38)(.0238,-29)(.0227,-27)(.0227,5)(.025,-11)(.022,65)(.0205,28)(.0208,31)(.0181,35)(.0189,38)(.0139,72)(.0148,70)(.0172,83)(.0248,63)(.0239,65)(.0243,88)
};
\addlegendentry{Pedometer}
\end{axis}
\end{tikzpicture}
\end{document}
